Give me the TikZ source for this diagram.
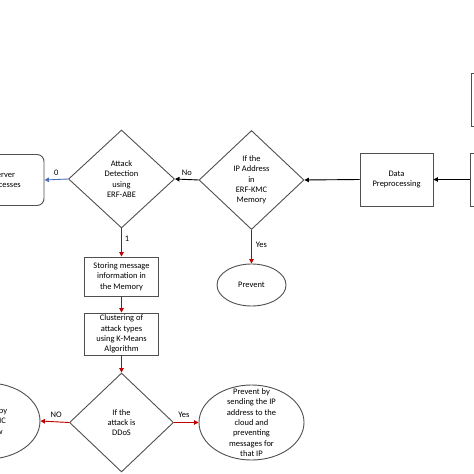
\documentclass[tikz,border=0pt]{standalone}
\usepackage{fontspec}
\setmainfont{Carlito}
\usetikzlibrary{shapes.geometric,arrows.meta}
\definecolor{lineg}{HTML}{505050}
\definecolor{arrred}{HTML}{C00000}
\definecolor{arrblue}{HTML}{4A72B8}
\tikzset{
  base/.style={draw=lineg, line width=0.9bp, font=\fontsize{8.5}{10.4}\selectfont, align=center, inner sep=0pt},
  box/.style={base, rectangle},
  rbox/.style={base, rectangle, rounded corners=7bp},
  dec/.style={base, diamond},
  oval/.style={base, ellipse},
  txt/.style={font=\fontsize{8.5}{10.4}\selectfont, align=center, inner sep=0pt},
  lbl/.style={font=\fontsize{8.5}{10}\selectfont, inner sep=1pt},
  tip/.style={-{Triangle[length=4.5bp,width=4.5bp]}, line width=0.9bp},
  redarr/.style={tip, draw=arrred, fill=arrred},
  blkarr/.style={tip, draw=black, fill=black},
  bluearr/.style={tip, draw=arrblue, fill=arrblue},
}
\begin{document}
\begin{tikzpicture}[x=1bp,y=-1bp]
\useasboundingbox (0,0) rectangle (474,474);
\clip (0,0) rectangle (474,474);
\fill[white] (0,0) rectangle (474,474);

% nodes
\node[rbox, minimum width=80bp, minimum height=51bp] (srv) at (4,180) {Server\\Processes};
\node[dec, minimum width=106bp, minimum height=98bp] (att) at (121.5,179) {Attack\\Detection\\using\\ERF-ABE};
\node[dec, minimum width=105bp, minimum height=99bp] (ip) at (251.5,180) {If the\\IP Address\\in\\ERF-KMC\\Memory};
\node[box, minimum width=73bp, minimum height=53bp] (dp) at (396.5,179.5) {Data\\Preprocessing};
\node[box, minimum width=80bp, minimum height=53bp] (rb) at (510,179.5) {};
\node[box, minimum width=80bp, minimum height=53bp] (tb) at (511,99.5) {};
\node[oval, minimum width=69bp, minimum height=42bp] (pv) at (251.5,285) {Prevent};
\node[box, minimum width=74bp, minimum height=39bp] (st) at (121.5,276.5) {Storing message\\information in\\the Memory};
\node[box, minimum width=74bp, minimum height=42bp] (cl) at (121.5,334) {Clustering of\\attack types\\using K-Means\\Algorithm};
\node[dec, minimum width=104bp, minimum height=99bp] (dd) at (121.5,422.5) {If the\\attack is\\DDoS};
\node[oval, minimum width=105bp, minimum height=75bp] (pc) at (251.5,422.5) {};
\node[txt] (pct) at (pc.center) {Prevent by\\sending the IP\\address to the\\cloud and\\preventing\\messages for\\that IP};
\node[oval, minimum width=105bp, minimum height=76bp] (le) at (-12.5,421) {};
\node[txt] (let) at (-14,421) {Store a copy\\in ERF-KMC\\and allow};

% connectors
\draw[bluearr] (att.west) -- (srv.east) node[lbl, pos=0.5, above=2bp] {0};
\draw[blkarr] (ip.west) -- (att.east) node[lbl, pos=0.5, above=2bp] {No};
\draw[blkarr] (dp.west) -- (ip.east);
\draw[blkarr] (rb.west) -- (dp.east);
\draw[redarr] (att.south) -- (st.north) node[lbl, pos=0.35, right=2bp] {1};
\draw[redarr] (ip.south) -- (pv.north) node[lbl, pos=0.45, right=3bp] {Yes};
\draw[redarr] (st.south) -- (cl.north);
\draw[redarr] (cl.south) -- (dd.north);
\draw[redarr] (dd.west) -- (le.east) node[lbl, pos=0.45, above=3bp] {NO};
\draw[redarr] (dd.east) -- (pc.west) node[lbl, pos=0.4, above=3bp] {Yes};
\end{tikzpicture}
\end{document}
